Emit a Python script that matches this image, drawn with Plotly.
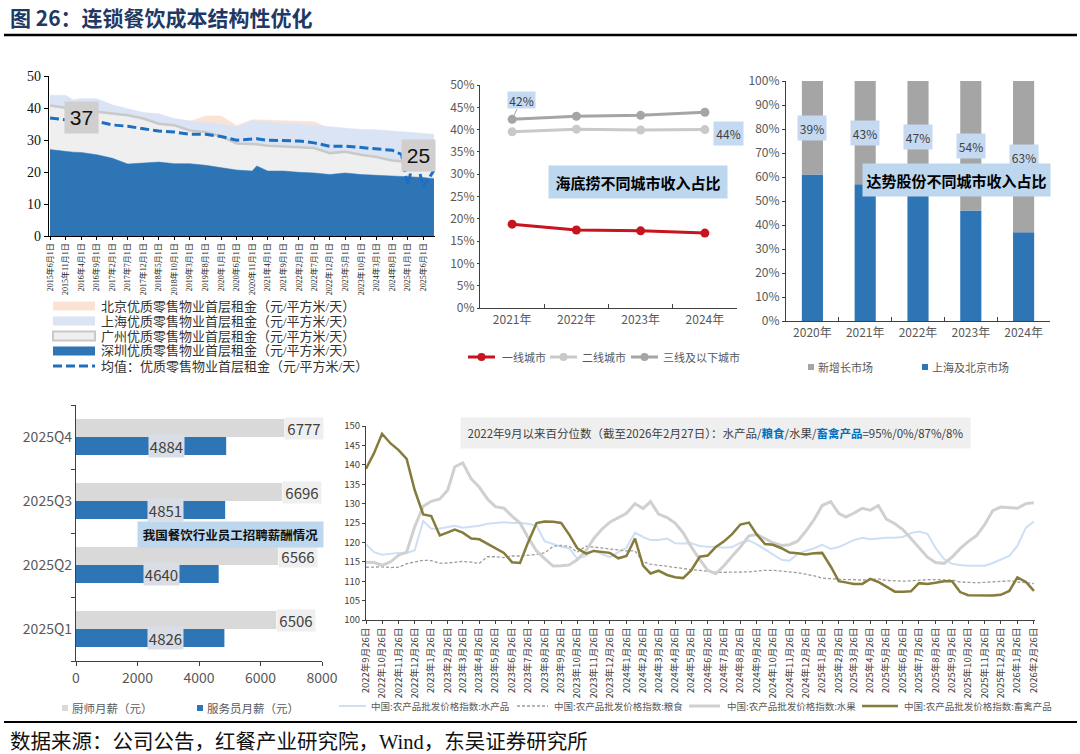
import plotly.graph_objects as go

W, H = 1080, 754
def X(p): return p / W
def Y(p): return 1 - p / H

SANS = "Noto Sans CJK SC"
NARROW = "Liberation Sans Narrow, Noto Sans CJK SC"
SERIF = "Liberation Serif, Noto Sans CJK SC"
GREY_TXT = "#595959"

# ---------------- Chart 1 data: prime retail ground-floor rents ----------------
rent_dates = ["2015-06-01", "2015-11-01", "2016-01-15", "2016-04-01", "2016-09-01", "2017-02-01",
              "2017-07-01", "2017-12-01", "2018-05-01", "2018-10-01", "2019-03-01", "2019-08-01",
              "2020-01-01", "2020-06-01", "2020-11-01", "2020-12-15", "2021-04-01", "2021-09-01",
              "2022-02-01", "2022-07-01", "2022-12-01", "2023-05-01", "2023-10-01", "2024-03-01",
              "2024-08-01", "2024-11-01", "2025-01-01", "2025-03-15", "2025-06-01", "2025-09-15"]
rent_beijing = [38.5, 38.5, 38.3, 38.2, 38.0, 37.8, 37.5, 37.3, 37.0, 36.5, 35.8, 37.5, 37.5, 34.5, 36.3,
                36.3, 36.2, 36.0, 35.9, 35.7, 33.5, 33.0, 32.5, 32.0, 31.5, 31.2, 31.0, 30.8, 30.5, 30.3]
rent_shanghai = [44.0, 44.0, 42.5, 43.0, 42.9, 41.0, 39.8, 38.6, 38.2, 36.7, 36.0, 35.6, 35.1, 34.1, 36.2,
                 36.0, 35.6, 35.3, 35.1, 34.6, 34.1, 33.8, 33.3, 33.2, 32.8, 32.6, 32.5, 32.2, 32.0, 31.8]
rent_guangzhou = [40.8, 40.0, 39.6, 39.3, 38.8, 38.2, 37.7, 36.7, 35.1, 34.6, 33.0, 32.5, 31.1, 28.9, 28.8,
                  28.7, 28.2, 28.0, 27.8, 27.5, 25.9, 26.3, 25.4, 24.7, 23.6, 23.3, 23.1, 23.0, 23.0, 22.6]
rent_shenzhen = [27.0, 26.4, 26.2, 26.1, 25.4, 24.3, 22.5, 22.8, 23.1, 22.6, 22.6, 22.1, 21.4, 20.6, 20.3,
                 21.9, 20.3, 20.3, 19.9, 19.7, 19.2, 19.7, 19.2, 19.0, 18.7, 18.5, 18.4, 18.4, 18.3, 17.9]
rent_mean = [36.9, 36.2, 36.0, 36.0, 35.8, 34.7, 34.3, 33.5, 32.8, 32.5, 31.8, 31.8, 31.1, 29.9, 30.4,
             30.4, 29.9, 29.7, 29.7, 29.1, 28.0, 28.1, 27.6, 27.3, 26.8, 25.5, 15.8, 26.0, 15.3, 20.5]
rent_legend = ["北京优质零售物业首层租金（元/平方米/天）", "上海优质零售物业首层租金（元/平方米/天）",
               "广州优质零售物业首层租金（元/平方米/天）", "深圳优质零售物业首层租金（元/平方米/天）",
               "均值：优质零售物业首层租金（元/平方米/天）"]
rent_tick_vals, rent_tick_text = [], []
for k in range(25):
    t = 2015 * 12 + 5 + 5 * k
    yy, mm = t // 12, t % 12 + 1
    rent_tick_vals.append(f"{yy}-{mm:02d}-01")
    rent_tick_text.append(f"{yy}年{mm}月1日")

# ---------------- Chart 2 data: Haidilao revenue by city tier ----------------
hdl_years = ["2021年", "2022年", "2023年", "2024年"]
hdl_tier1 = [18.8, 17.5, 17.3, 16.8]
hdl_tier2 = [39.5, 40.1, 39.9, 40.0]
hdl_tier3 = [42.3, 43.0, 43.2, 43.9]
hdl_names = ["一线城市", "二线城市", "三线及以下城市"]

# ---------------- Chart 3 data: DPC Dash revenue by market ----------------
dpc_years = ["2020年", "2021年", "2022年", "2023年", "2024年"]
dpc_shbj = [61, 57, 53, 46, 37]
dpc_new = [39, 43, 47, 54, 63]
dpc_names = ["新增长市场", "上海及北京市场"]

# ---------------- Chart 4 data: restaurant staff salaries ----------------
sal_quarters = ["2025Q1", "2025Q2", "2025Q3", "2025Q4"]
sal_chef = [6506, 6566, 6696, 6777]
sal_waiter = [4826, 4640, 4851, 4884]
sal_names = ["厨师月薪（元）", "服务员月薪（元）"]

# ---------------- Chart 5 data: agricultural wholesale price indices ----------------
agri_aquatic = [119.5, 117.5, 116.8, 117.0, 117.3, 117.2, 118.0, 125.5, 123.5, 123.6, 124.0, 124.3, 123.8,
                124.0, 124.3, 124.8, 125.0, 125.2, 125.0, 125.0, 124.8, 124.3, 120.3, 119.6, 118.9, 118.5,
                115.8, 116.5, 118.0, 117.0, 116.2, 117.5, 118.6, 122.5, 121.4, 120.6, 120.6, 121.0, 119.8,
                119.7, 119.8, 119.1, 118.9, 118.9, 118.6, 118.8, 119.9, 120.5, 119.5, 118.2, 116.8, 115.5,
                115.3, 117.0, 117.8, 118.5, 119.4, 118.3, 118.8, 119.7, 120.6, 121.2, 120.8, 121.0, 121.2,
                121.2, 121.4, 122.4, 122.8, 122.2, 118.6, 115.7, 114.5, 114.2, 114.0, 114.0, 114.0, 114.7,
                115.6, 116.5, 119.1, 123.8, 125.4]
agri_grain = [113.6, 113.7, 113.7, 113.5, 113.6, 114.5, 115.0, 115.4, 115.3, 114.6, 114.7, 114.9, 115.1,
              114.9, 114.6, 116.3, 116.3, 116.1, 116.5, 116.5, 116.6, 116.9, 117.3, 119.0, 119.2, 119.0,
              117.5, 119.0, 118.8, 118.6, 118.4, 118.0, 117.8, 117.8, 115.0, 114.4, 114.1, 113.9, 113.5,
              113.3, 113.0, 112.8, 112.6, 112.3, 112.3, 112.3, 112.3, 112.4, 112.6, 112.8, 112.8, 112.6,
              112.4, 112.2, 111.8, 111.4, 110.8, 110.6, 110.5, 110.4, 110.4, 110.3, 110.4, 110.6, 110.2,
              110.0, 110.0, 110.1, 110.3, 110.4, 110.4, 110.4, 110.3, 109.8, 109.7, 109.6, 109.7, 109.8,
              110.0, 110.1, 109.8, 109.6, 109.4]
agri_fruit = [114.9, 114.8, 114.1, 115.0, 116.7, 117.5, 124.0, 129.3, 130.6, 131.2, 133.5, 139.5, 140.5,
              136.3, 134.2, 131.2, 129.2, 128.8, 126.8, 125.0, 121.3, 117.8, 115.8, 113.9, 114.0, 114.2,
              115.5, 117.8, 121.0, 123.4, 125.2, 126.3, 127.5, 130.0, 128.7, 130.5, 127.3, 126.4, 125.0,
              122.5, 118.9, 115.6, 112.8, 111.9, 113.9, 116.5, 118.8, 121.7, 122.0, 121.0, 119.9, 119.2,
              119.4, 120.3, 122.8, 125.9, 129.5, 130.5, 127.5, 126.5, 127.5, 128.8, 128.3, 129.5, 126.0,
              124.8, 123.3, 121.0, 118.8, 116.2, 114.8, 114.6, 116.2, 118.4, 120.2, 121.8, 124.6, 128.2,
              129.1, 129.0, 128.8, 130.0, 130.2]
agri_livestock = [139.0, 143.0, 148.0, 145.5, 143.8, 141.5, 133.5, 127.2, 126.8, 121.8, 122.6, 123.3, 122.5,
                  121.0, 120.8, 119.6, 118.4, 117.3, 114.9, 114.7, 120.0, 125.0, 125.4, 125.3, 125.0, 122.0,
                  118.5, 117.1, 117.8, 117.5, 117.3, 115.9, 116.5, 121.0, 114.0, 112.0, 112.7, 111.6, 111.0,
                  110.8, 112.8, 116.3, 116.6, 118.8, 120.2, 122.2, 124.6, 125.1, 122.0, 119.6, 119.4, 118.5,
                  117.4, 117.2, 116.9, 117.2, 117.3, 113.8, 110.0, 109.7, 109.3, 109.3, 110.6, 109.8, 108.5,
                  107.3, 107.3, 107.4, 109.5, 109.3, 109.6, 110.0, 110.0, 107.2, 106.4, 106.3, 106.2, 106.3,
                  106.5, 107.5, 111.0, 109.8, 107.5]
agri_names = ["中国:农产品批发价格指数:水产品", "中国:农产品批发价格指数:粮食",
              "中国:农产品批发价格指数:水果", "中国:农产品批发价格指数:畜禽产品"]
agri_note = ("2022年9月以来百分位数（截至2026年2月27日）：水产品/<b><span style='color:#0070C0'>粮食</span></b>"
             "/水果/<b><span style='color:#0070C0'>畜禽产品</span></b>=95%/0%/87%/8%")

# sampling grid (26th and 11th of each month) and monthly tick grid
agri_dates = []
for i in range(83):
    k = i // 2 + (i % 2)
    t = 2022 * 12 + 8 + k
    yy, mm = t // 12, t % 12 + 1
    agri_dates.append(f"{yy}-{mm:02d}-{26 if i % 2 == 0 else 11}")
agri_tick_vals, agri_tick_text = [], []
for k in range(42):
    t = 2022 * 12 + 8 + k
    yy, mm = t // 12, t % 12 + 1
    agri_tick_vals.append(f"{yy}-{mm:02d}-26")
    agri_tick_text.append(f"{yy}年{mm}月26日")

fig = go.Figure()

# ---------- Chart 1 traces ----------
c1_styles = [("#fbe3d4", "#fbe3d4", 0.5), ("#dbe4f4", "#dbe4f4", 0.5),
             ("#efefef", "#c9c9c9", 2.5), ("#2e75b6", "#2e75b6", 0.5)]
for vals, (fc, lc, lw) in zip([rent_beijing, rent_shanghai, rent_guangzhou, rent_shenzhen], c1_styles):
    fig.add_trace(go.Scatter(x=rent_dates, y=vals, mode="lines", fill="tozeroy", fillcolor=fc,
                             line=dict(color=lc, width=lw), xaxis="x", yaxis="y", hoverinfo="skip"))
fig.add_trace(go.Scatter(x=rent_dates, y=rent_mean, mode="lines",
                         line=dict(color="#1f6fc1", width=3, dash="9px,4px"), xaxis="x", yaxis="y"))

# ---------- Chart 2 traces ----------
c2_colors = ["#c8141e", "#c9c9c9", "#a5a5a5"]
for vals, col in zip([hdl_tier1, hdl_tier2, hdl_tier3], c2_colors):
    fig.add_trace(go.Scatter(x=hdl_years, y=vals, mode="lines+markers", line=dict(color=col, width=3),
                             marker=dict(color=col, size=9), xaxis="x2", yaxis="y2"))

# ---------- Chart 3 traces ----------
fig.add_trace(go.Bar(x=dpc_years, y=dpc_shbj, marker=dict(color="#2e75b6", line=dict(width=0)),
                     width=0.4, offset=-0.2, xaxis="x3", yaxis="y3"))
fig.add_trace(go.Bar(x=dpc_years, y=dpc_new, base=dpc_shbj, marker=dict(color="#a5a5a5", line=dict(width=0)),
                     width=0.4, offset=-0.2, xaxis="x3", yaxis="y3"))

# ---------- Chart 4 traces ----------
fig.add_trace(go.Bar(y=sal_quarters, x=sal_chef, orientation="h", marker=dict(color="#d9d9d9", line=dict(width=0)),
                     width=0.28, offset=0.0, xaxis="x4", yaxis="y4"))
fig.add_trace(go.Bar(y=sal_quarters, x=sal_waiter, orientation="h", marker=dict(color="#2e75b6", line=dict(width=0)),
                     width=0.28, offset=-0.28, xaxis="x4", yaxis="y4"))

# ---------- Chart 5 traces ----------
c5_styles = [dict(color="#cddff4", width=2), dict(color="#9c9c9c", width=1.3, dash="3px,2px"),
             dict(color="#d0d0d0", width=3), dict(color="#857b3b", width=2.5)]
for vals, st in zip([agri_aquatic, agri_grain, agri_fruit, agri_livestock], c5_styles):
    fig.add_trace(go.Scatter(x=agri_dates, y=vals, mode="lines", line=st, xaxis="x5", yaxis="y5"))

# ---------- Axes ----------
ax_common = dict(showgrid=False, zeroline=False, showline=True, automargin=False)
fig.update_layout(
    template="none",
    width=W, height=H, margin=dict(l=0, r=0, t=0, b=0, pad=0), showlegend=False, autosize=False,
    paper_bgcolor="white", plot_bgcolor="rgba(0,0,0,0)", barmode="overlay",
    font=dict(family=SANS, color=GREY_TXT),
    xaxis=dict(**ax_common, domain=[X(49), X(435)], anchor="y", type="date",
               range=["2015-05-22", "2025-09-25"], tickvals=rent_tick_vals, ticktext=rent_tick_text,
               tickangle=-90, tickfont=dict(family=SERIF, size=8, color="#222"),
               linecolor="#000", linewidth=1.2, ticks="outside", ticklen=3, tickcolor="#000"),
    yaxis=dict(**ax_common, domain=[Y(236), Y(76)], anchor="x", range=[0, 50], dtick=10,
               tickfont=dict(family=SERIF, size=14, color="#111"), linecolor="#000", linewidth=1.2,
               ticks="outside", ticklen=4, tickcolor="#000"),
    xaxis2=dict(**ax_common, domain=[X(480), X(737)], anchor="y2", type="category", range=[-0.5, 3.5],
                tickson="boundaries", ticks="inside", ticklen=4, tickcolor="#404040", linecolor="#404040",
                linewidth=1.2, tickfont=dict(family=NARROW, size=12, color=GREY_TXT)),
    yaxis2=dict(**ax_common, domain=[Y(308), Y(85)], anchor="x2", range=[0, 50], dtick=5, ticksuffix="%",
                linecolor="#404040", linewidth=1.2, ticks="outside", ticklen=2, tickcolor="#404040",
                tickfont=dict(family=NARROW, size=12, color=GREY_TXT)),
    xaxis3=dict(**ax_common, domain=[X(786), X(1050)], anchor="y3", type="category", range=[-0.5, 4.5],
                tickson="boundaries", ticks="inside", ticklen=4, tickcolor="#404040", linecolor="#404040",
                linewidth=1.2, tickfont=dict(family=NARROW, size=12, color=GREY_TXT)),
    yaxis3=dict(**ax_common, domain=[Y(321), Y(81)], anchor="x3", range=[0, 100], dtick=10, ticksuffix="%",
                linecolor="#404040", linewidth=1.2, ticks="outside", ticklen=3, tickcolor="#404040",
                tickfont=dict(family=NARROW, size=12, color=GREY_TXT)),
    xaxis4=dict(**ax_common, domain=[X(76), X(322)], anchor="y4", range=[0, 8000], dtick=2000,
                linecolor="#404040", linewidth=1.2, ticks="outside", ticklen=4, tickcolor="#404040",
                tickfont=dict(family=NARROW, size=14, color=GREY_TXT)),
    yaxis4=dict(**ax_common, domain=[Y(661), Y(405)], anchor="x4", type="category", range=[-0.5, 3.5],
                tickson="boundaries", ticks="outside", ticklen=4, tickcolor="#404040", linecolor="#404040",
                linewidth=1.2, tickfont=dict(family=NARROW, size=14, color=GREY_TXT)),
    xaxis5=dict(**ax_common, domain=[X(366), X(1035)], anchor="y5", type="date",
                range=["2022-09-26", "2026-02-28"], tickvals=agri_tick_vals, ticktext=agri_tick_text,
                tickangle=-90, tickfont=dict(family=NARROW, size=9.5, color="#404040"),
                linecolor="#404040", linewidth=1, ticks="outside", ticklen=3, tickcolor="#404040"),
    yaxis5=dict(**ax_common, domain=[Y(620), Y(426)], anchor="x5", range=[100, 150], dtick=5,
                linecolor="#404040", linewidth=1, ticks="outside", ticklen=3, tickcolor="#404040",
                tickfont=dict(family=NARROW, size=9.5, color="#404040")),
)

ann = []
shapes = []

def ptxt(px, py, text, size, color=GREY_TXT, family=SANS, xanchor="left", **kw):
    d = dict(xref="paper", yref="paper", x=X(px), y=Y(py), xanchor=xanchor, yanchor="middle",
             text=text, showarrow=False, font=dict(family=family, size=size, color=color))
    d.update(kw)
    ann.append(d)

# Title, rules, footer
ptxt(8, 17, "<b>图 26：连锁餐饮成本结构性优化</b>", 21, color="#1f3864")
shapes.append(dict(type="line", xref="paper", yref="paper", x0=X(4), x1=X(1077), y0=Y(35), y1=Y(35),
                   line=dict(color="#000", width=2.5)))
shapes.append(dict(type="line", xref="paper", yref="paper", x0=X(4), x1=X(1077), y0=Y(722), y1=Y(722),
                   line=dict(color="#000", width=2)))
ptxt(8, 742, "数据来源：公司公告，红餐产业研究院，Wind，东吴证券研究所", 20.5, color="#111", family=SERIF)

# Chart 1 labels
ann.append(dict(xref="x", yref="y", x=rent_dates[3], y=rent_mean[0], text=str(round(rent_mean[0])),
                xanchor="center", yanchor="middle",
                showarrow=False, bgcolor="#d0cece", width=33, height=31, borderpad=0,
                font=dict(family="Liberation Sans", size=21, color="#111")))
ann.append(dict(xref="x", yref="y", x="2025-04-20", y=25.3, text="25", xanchor="center", yanchor="middle",
                showarrow=False, bgcolor="#d0cece", width=33, height=31, borderpad=0,
                font=dict(family="Liberation Sans", size=21, color="#111")))
# Chart 1 legend
rows = [306, 321, 336, 351, 366]
sw = [("#fbe3d4", None), ("#dbe4f4", None), ("#efefef", "#c9c9c9"), ("#2e75b6", None)]
for r, (fc, bc) in zip(rows[:4], sw):
    shapes.append(dict(type="rect", xref="paper", yref="paper", x0=X(53), x1=X(95), y0=Y(r + 4.5), y1=Y(r - 4.5),
                       fillcolor=fc, line=dict(color=bc if bc else fc, width=2 if bc else 0)))
shapes.append(dict(type="line", xref="paper", yref="paper", x0=X(53), x1=X(95), y0=Y(rows[4]), y1=Y(rows[4]),
                   line=dict(color="#1f6fc1", width=3, dash="9px,4px")))
for r, t in zip(rows, rent_legend):
    ptxt(99, r, t, 13, color="#333", family=SERIF)

# Chart 2 labels
ann.append(dict(xref="x2", yref="y2", x=hdl_years[0], y=hdl_tier3[0], text=f"{round(hdl_tier3[0])}%",
                showarrow=True, arrowhead=0, arrowwidth=1, arrowcolor="#a5a5a5", ax=9, ay=-19,
                bgcolor="#c5d9f1", width=27, height=16, borderpad=0, font=dict(family=NARROW, size=12, color="#404040")))
ann.append(dict(xref="x2", yref="y2", x=hdl_years[3], y=hdl_tier3[3], text=f"{round(hdl_tier3[3])}%",
                showarrow=True, arrowhead=0, arrowwidth=1, arrowcolor="#a5a5a5", ax=24, ay=21,
                bgcolor="#c5d9f1", width=29, height=23, borderpad=0, font=dict(family=NARROW, size=12, color="#404040")))
ptxt(638, 182, "<b>海底捞不同城市收入占比</b>", 15, color="#000", xanchor="center",
     bgcolor="#bdd7ee", width=178, height=32, borderpad=0)
# Chart 2 legend
leg2 = [(468, 495, 500), (550, 577, 580), (631, 658, 661)]
for (x0, x1, tx), col, name in zip(leg2, c2_colors, hdl_names):
    shapes.append(dict(type="line", xref="paper", yref="paper", x0=X(x0), x1=X(x1), y0=Y(357), y1=Y(357),
                       line=dict(color=col, width=3)))
    cx = (x0 + x1) / 2
    shapes.append(dict(type="circle", xref="paper", yref="paper", x0=X(cx - 4), x1=X(cx + 4), y0=Y(361), y1=Y(353),
                       fillcolor=col, line=dict(color=col, width=0)))
    ptxt(tx, 357, name, 11)

# Chart 3 labels
for yr, b, g in zip(dpc_years, dpc_shbj, dpc_new):
    ann.append(dict(xref="x3", yref="y3", x=yr, y=b + g / 2, text=f"{g}%", showarrow=False,
                    xanchor="center", yanchor="middle",
                    bgcolor="#c5d9f1", width=28, height=24, borderpad=0,
                    font=dict(family=NARROW, size=12, color="#404040")))
ptxt(956, 180, "<b>达势股份不同城市收入占比</b>", 15, color="#000", xanchor="center",
     bgcolor="#bdd7ee", width=187, height=32, borderpad=0)
# Chart 3 legend
for (sx, tx), col, name in zip([(808, 816), (922, 930)], ["#a5a5a5", "#2e75b6"], dpc_names):
    shapes.append(dict(type="rect", xref="paper", yref="paper", x0=X(sx), x1=X(sx + 6), y0=Y(370), y1=Y(364),
                       fillcolor=col, line=dict(width=0)))
    ptxt(tx, 367, name, 11)

# Chart 4 labels
for i, (q, c, w) in enumerate(zip(sal_quarters, sal_chef, sal_waiter)):
    ann.append(dict(xref="x4", yref="y4", x=c, y=i + 0.14, xanchor="left", yanchor="middle", text=str(c),
                    showarrow=False, bgcolor="#efefef", width=38, height=21, borderpad=0,
                    font=dict(family=NARROW, size=15, color="#404040")))
    ann.append(dict(xref="x4", yref="y4", x=w * 0.6, y=i - 0.14, xanchor="center", yanchor="middle", text=str(w),
                    showarrow=False, bgcolor="#d8dde6", width=35, height=22, borderpad=0,
                    font=dict(family=NARROW, size=15, color="#404040")))
ptxt(230, 534, "<b>我国餐饮行业员工招聘薪酬情况</b>", 12.5, color="#111", xanchor="center",
     bgcolor="#bdd7ee", width=185, height=25, borderpad=0)
# Chart 4 legend
for (sx, tx), col, name in zip([(62, 70), (197, 205)], ["#d9d9d9", "#2e75b6"], sal_names):
    shapes.append(dict(type="rect", xref="paper", yref="paper", x0=X(sx), x1=X(sx + 6), y0=Y(711), y1=Y(705),
                       fillcolor=col, line=dict(width=0)))
    ptxt(tx, 708, name, 11.5)

# Chart 5 note & legend
ptxt(715, 433, agri_note, 11.5, color="#404040", family=NARROW, xanchor="center",
     bgcolor="#efefef", width=509, height=30, borderpad=0)
leg5 = [(339, 366, 369), (517, 548, 552), (689, 720, 725), (862, 898, 902)]
for (x0, x1, tx), st, name in zip(leg5, c5_styles, agri_names):
    shapes.append(dict(type="line", xref="paper", yref="paper", x0=X(x0), x1=X(x1), y0=Y(706), y1=Y(706),
                       line=st))
    ptxt(tx, 706, name, 9.5)

fig.update_layout(annotations=ann, shapes=shapes)
fig.write_html("out.html", config={"displayModeBar": False},
               post_script="document.body.style.margin='0px';document.body.style.padding='0px';")
